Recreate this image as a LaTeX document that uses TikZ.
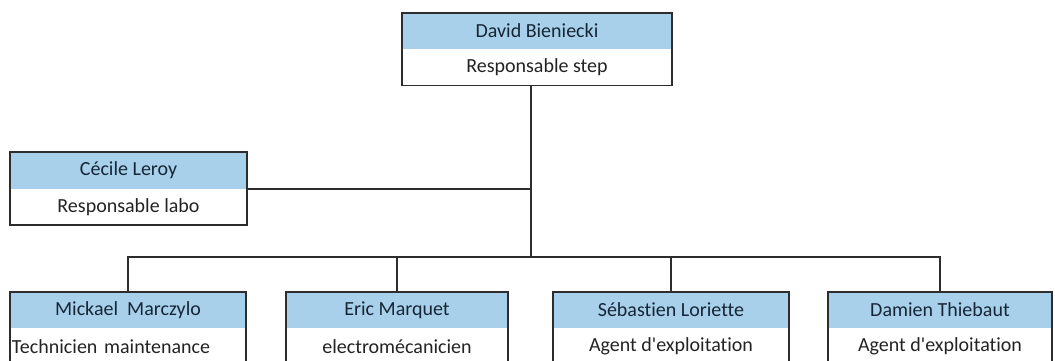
\documentclass[tikz,border=0pt]{standalone}
\usepackage{fontspec}
\setmainfont{Carlito}[Ligatures=NoCommon]
\usetikzlibrary{positioning}
\definecolor{hdrblue}{RGB}{168,208,234}
\definecolor{namecol}{RGB}{22,38,54}
\definecolor{rolecol}{RGB}{35,35,35}
\definecolor{linecol}{RGB}{45,45,45}

\begin{document}
\begin{tikzpicture}[x=1pt,y=-1pt,
    namebox/.style={fill=hdrblue,text=namecol,inner sep=0pt,minimum height=36pt,font=\fontsize{20}{23}\selectfont},
    rolebox/.style={text=rolecol,inner sep=0pt,minimum height=36pt,font=\fontsize{20}{23}\selectfont},
    frame/.style={draw=linecol,line width=1.7pt},
    wire/.style={draw=linecol,line width=2pt}]
\useasboundingbox (0,0) rectangle (1055,361);
\clip (0,0) rectangle (1055,361);

% responsable
\node (davidn) at (537,31) [namebox,minimum width=270pt] {David Bieniecki};
\node (davidr) [rolebox,minimum width=270pt,below=0pt of davidn] {Responsable step};
\draw [frame] (davidn.north west) rectangle (davidr.south east);

% labo
\node (cecilen) at (128.5,170.5) [namebox,minimum width=237pt] {Cécile Leroy};
\node (ceciler) [rolebox,minimum width=237pt,below=0pt of cecilen] {Responsable labo};
\draw [frame] (cecilen.north west) rectangle (ceciler.south east);

% equipe
\node (mickn) at (128,310) [namebox,minimum width=236pt] {Mickael\ \ Marczylo};
\node (mickr) [rolebox,text width=232pt,inner xsep=2pt,align=left,below=0pt of mickn] {Technicien maintenance};
\draw [frame] (mickn.north west) rectangle (mickr.south east);

\node (ericn) at (397,310) [namebox,minimum width=221pt] {Eric Marquet};
\node (ericr) [rolebox,minimum width=221pt,below=0pt of ericn] {electromécanicien};
\draw [frame] (ericn.north west) rectangle (ericr.south east);

\node (sebn) at (671,310) [namebox,minimum width=236pt] {Sébastien Loriette};
\node (sebr) [rolebox,minimum width=236pt,below=0pt of sebn] {Agent d\textquotesingle exploitation};
\draw [frame] (sebn.north west) rectangle (sebr.south east);

\node (damienn) at (940,310) [namebox,minimum width=223pt] {Damien Thiebaut};
\node (damienr) [rolebox,minimum width=223pt,below=0pt of damienn] {Agent d\textquotesingle exploitation};
\draw [frame] (damienn.north west) rectangle (damienr.south east);

% liaisons
\coordinate (bus) at (531,257);
\draw [wire] (davidr.south -| bus) -- (bus);
\draw [wire] (cecilen.south east) -- (cecilen.south east -| bus);
\draw [wire] (mickn.north) -- (mickn.north |- bus) -- (damienn.north |- bus) -- (damienn.north);
\draw [wire] (ericn.north) -- (ericn.north |- bus);
\draw [wire] (sebn.north) -- (sebn.north |- bus);

\end{tikzpicture}
\end{document}
